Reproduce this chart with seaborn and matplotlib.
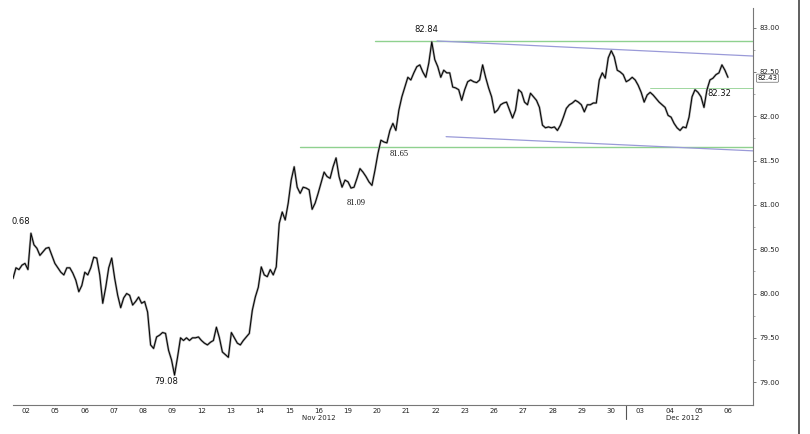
import numpy as np
import pandas as pd
import matplotlib
matplotlib.use('Agg')
import matplotlib.pyplot as plt
import matplotlib.transforms as mtransforms
from matplotlib.lines import Line2D
import seaborn as sns

# trading days shown on the x axis (Nov 2 2012 .. Dec 6 2012)
day_labels = ['02', '05', '06', '07', '08', '09', '12', '13', '14', '15', '16', '19', '20',
              '21', '22', '23', '26', '27', '28', '29', '30', '03', '04', '05', '06']
month_labels = ['Nov 2012', 'Dec 2012']
month_pos = [10.5, 22.93]

# intraday prices, roughly 9-10 per trading day
price = [
    # 02 Nov
    80.17, 80.29, 80.27, 80.32, 80.34, 80.27, 80.68, 80.55, 80.51, 80.43,
    # 05
    80.47, 80.51, 80.52, 80.43, 80.34, 80.29, 80.24, 80.21,
    # 06
    80.29, 80.29, 80.23, 80.15, 80.02, 80.09, 80.24, 80.21, 80.29, 80.41,
    # 07
    80.40, 80.21, 79.89, 80.07, 80.29, 80.40, 80.17, 79.98, 79.84, 79.95,
    # 08
    80.00, 79.98, 79.87, 79.91, 79.96, 79.89, 79.91, 79.79, 79.42, 79.38,
    # 09
    79.51, 79.53, 79.56, 79.55, 79.36, 79.25, 79.08, 79.28, 79.50, 79.47,
    # 12
    79.50, 79.47, 79.50, 79.50, 79.51, 79.47, 79.44, 79.42, 79.45,
    # 13
    79.47, 79.62, 79.50, 79.34, 79.31, 79.28, 79.56, 79.50, 79.44,
    # 14
    79.42, 79.47, 79.51, 79.55, 79.81, 79.96, 80.07, 80.30, 80.21, 80.19,
    # 15
    80.27, 80.21, 80.30, 80.79, 80.92, 80.83, 81.02, 81.28, 81.43, 81.20, 81.13, 81.20,
    # 16
    81.19, 81.17, 80.95, 81.02, 81.13, 81.25, 81.37, 81.32, 81.30,
    # 19
    81.43, 81.53, 81.32, 81.20, 81.28, 81.26, 81.19, 81.20, 81.30,
    # 20
    81.41, 81.37, 81.32, 81.26, 81.22, 81.39, 81.58, 81.73, 81.71,
    # 21
    81.70, 81.84, 81.92, 81.84, 82.07, 82.22, 82.33, 82.44, 82.41, 82.49,
    # 22
    82.56, 82.58, 82.50, 82.44, 82.60, 82.84, 82.64, 82.56, 82.44, 82.52, 82.49,
    # 23
    82.49, 82.33, 82.32, 82.30, 82.18, 82.30, 82.39, 82.41, 82.39,
    # 26
    82.38, 82.41, 82.58, 82.44, 82.32, 82.22, 82.04, 82.07, 82.13, 82.15, 82.16,
    # 27
    82.07, 81.98, 82.07, 82.30, 82.27, 82.16, 82.13, 82.26, 82.22,
    # 28
    82.18, 82.10, 81.90, 81.87, 81.88, 81.87, 81.88, 81.84, 81.90,
    # 29
    81.99, 82.09, 82.13, 82.15, 82.18, 82.16, 82.13, 82.05, 82.13, 82.13,
    # 30
    82.15, 82.15, 82.41, 82.49, 82.43, 82.66, 82.74, 82.67, 82.52, 82.50, 82.47, 82.39,
    # 03 Dec
    82.41, 82.44, 82.41, 82.35, 82.27, 82.16, 82.24, 82.27, 82.24,
    # 04
    82.20, 82.16, 82.13, 82.10, 82.01, 81.99, 81.92, 81.87, 81.84,
    # 05
    81.88, 81.87, 81.99, 82.22, 82.30, 82.27, 82.22, 82.10, 82.30, 82.41, 82.43,
    # 06
    82.47, 82.49, 82.58, 82.52, 82.44,
]
bars_per_day = 9.78
first_bar = 0.055
last_price = 82.43

# horizontal support / resistance levels (green) and where they start
levels = [82.85, 81.65, 82.32]
level_start = [12.43, 9.87, 21.83]
level_width = [1.0, 1.0, 0.6]

# channel lines (blue): start / end day and price
chan_x = [[14.55, 25.35], [14.86, 25.35]]
chan_y = [[82.85, 82.68], [81.77, 81.61]]

# labelled prices
notes = ['0.68', '79.08', '81.09', '81.65', '82.84', '82.32']
note_x = [0.02, 5.29, 11.78, 13.25, 14.17, 24.19]
note_y = [80.81, 79.01, 81.02, 81.575, 82.985, 82.26]
note_font = ['DejaVu Sans', 'DejaVu Sans', 'Liberation Serif', 'Liberation Serif',
             'DejaVu Sans', 'DejaVu Sans']

sns.set_style('white')
plt.rcParams['font.family'] = ['DejaVu Sans']

fig = plt.figure(figsize=(8.1, 4.34), dpi=100)
ax = fig.add_axes([13 / 810, 1 - 405 / 434, 740 / 810, 397 / 434])

df = pd.DataFrame({'t': first_bar + np.arange(len(price)) / bars_per_day, 'price': price})
sns.lineplot(data=df, x='t', y='price', ax=ax, color='#a0a0a0', lw=1.6)
sns.lineplot(data=df, x='t', y='price', ax=ax, color='black', lw=0.7)

for lv, st, w in zip(levels, level_start, level_width):
    ax.plot([st, 25.35], [lv, lv], color='#8fd18f', lw=w, zorder=1)
for cx, cy in zip(chan_x, chan_y):
    ax.plot(cx, cy, color='#9a9ad8', lw=0.9, zorder=1)

for txt, x, y, fam in zip(notes, note_x, note_y, note_font):
    ax.text(x, y, txt, fontsize=6, family=fam, ha='left' if txt == '0.68' else 'center',
            va='center', color='#111', clip_on=False)

ax.set_xlim(0.055, 25.35)
ax.set_ylim(78.742, 83.222)
ax.set_xlabel('')
ax.set_ylabel('')

ax.set_xticks(np.arange(len(day_labels)) + 0.5)
ax.set_xticklabels(day_labels)
ax.tick_params(axis='x', length=0, labelsize=5, pad=2, colors='#222')

ax.yaxis.tick_right()
yt = np.arange(79.0, 83.01, 0.5)
ax.set_yticks(yt)
ax.set_yticklabels([f'{v:.2f}' for v in yt])
ax.set_yticks(yt[:-1] + 0.25, minor=True)
ax.tick_params(axis='y', which='major', direction='out', length=2.5, width=0.6,
               color='#666', labelsize=5, pad=2, labelcolor='#222')
ax.tick_params(axis='y', which='minor', direction='out', length=1.5, width=0.5, color='#888')

for s in ['left', 'top']:
    ax.spines[s].set_visible(False)
for s in ['right', 'bottom']:
    ax.spines[s].set_color('#777')
    ax.spines[s].set_linewidth(0.8)

bt = mtransforms.blended_transform_factory(ax.transData, ax.transAxes)
for lab, pos in zip(month_labels, month_pos):
    ax.text(pos, -0.025, lab, transform=bt, fontsize=5, ha='center', va='top', color='#222')
ax.plot([21, 21], [0, -0.035], transform=bt, clip_on=False, color='#555', lw=0.8)

rt = mtransforms.blended_transform_factory(ax.transAxes, ax.transData)
ax.text(1.006, last_price, f'{last_price:.2f}', transform=rt, fontsize=5, ha='left',
        va='center', color='#111',
        bbox=dict(boxstyle='round,pad=0.15', fc='white', ec='#666', lw=0.5))

fig.add_artist(Line2D([799 / 810, 799 / 810], [0, 1], color='#444', lw=1.2))

fig.savefig('out.png', dpi=100)
